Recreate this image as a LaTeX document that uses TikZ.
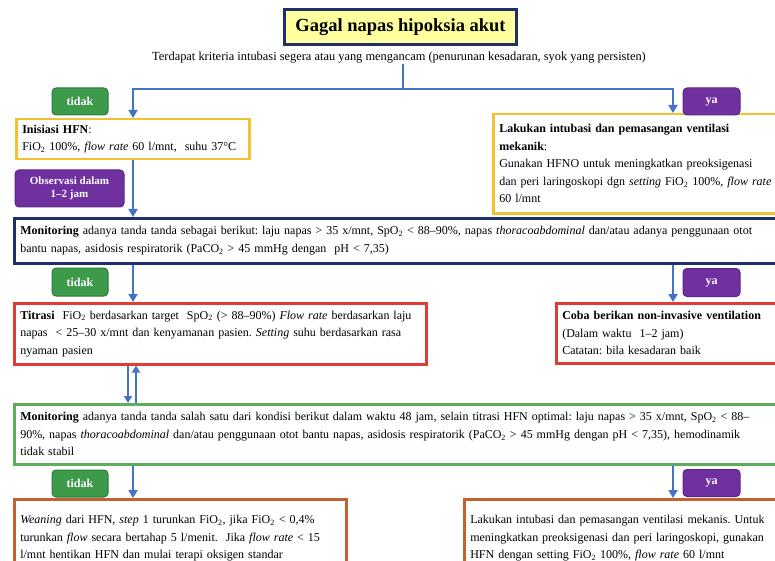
\documentclass[tikz,border=0pt]{standalone}
\usepackage{fontspec}
\setmainfont{Liberation Serif}
\usetikzlibrary{arrows.meta,calc}
\definecolor{connblue}{HTML}{4472C4}
\definecolor{btngreen}{HTML}{3C9A4A}
\definecolor{btngreenD}{HTML}{2E7D3A}
\definecolor{btnpurple}{HTML}{7030A0}
\definecolor{btnpurpleD}{HTML}{5A2585}
\definecolor{titlefill}{HTML}{FFFF9E}
\definecolor{navy}{HTML}{1F2F6B}
\definecolor{boxyellow}{HTML}{F2C232}
\definecolor{boxred}{HTML}{E23A35}
\definecolor{boxgreen}{HTML}{5CAE5C}
\definecolor{boxorange}{HTML}{C4622D}
\frenchspacing
\begin{document}
\begin{tikzpicture}[x=1pt,y=-1pt,
  txt/.style={font=\fontsize{12}{17.5}\selectfont},
  box/.style={draw, line width=2.5pt, fill=white, align=left, anchor=north west,
    inner xsep=6pt, inner ysep=0pt, txt},
  btn/.style={draw=#1D, fill=#1, line width=1pt, rounded corners=4pt, text=white,
    font=\fontsize{12}{13}\selectfont\bfseries, inner sep=0pt, align=center},
  line/.style={draw=connblue, line width=2.5pt},
  arr/.style={line, -{Triangle[width=9pt,length=8pt]}},
  thinarr/.style={draw=connblue, line width=2pt, -{Triangle[width=8pt,length=7pt]}}
]
\useasboundingbox (0,0) rectangle (775,561);
\clip (0,0) rectangle (775,561);

% title
\node[draw=navy, line width=3.5pt, fill=titlefill, minimum width=232pt, minimum height=35pt,
  font=\fontsize{18.5}{22}\selectfont\bfseries] (title) at (400.5,27) {Gagal napas hipoksia akut};
\node[font=\fontsize{12.4}{15}\selectfont, inner sep=0pt] (sub) at (399,58) {Terdapat kriteria intubasi segera atau yang mengancam (penurunan kesadaran, syok yang persisten)};

% guide coordinates
\coordinate (cL) at (133,0);
\coordinate (cR) at (673,0);
\coordinate (j1) at (403,89);
\coordinate (dn) at (128,0);
\coordinate (up) at (136,0);

% boxes
\node[box, draw=boxyellow, text width=221pt, minimum height=40pt] (ini) at (15,118)
 {\textbf{Inisiasi HFN}:\\FiO\textsubscript{2} 100\%, \textit{flow rate} 60 l/mnt,~ suhu 37°C};
\node[box, draw=boxyellow, text width=278pt, minimum height=99pt] (hfno) at (492,113)
 {\textbf{Lakukan intubasi dan pemasangan ventilasi}\\\textbf{mekanik}:\\Gunakan HFNO untuk meningkatkan preoksigenasi\\dan peri laringoskopi dgn \textit{setting} FiO\textsubscript{2} 100\%, \textit{flow rate}\\60 l/mnt};
\node[box, draw=navy, text width=758pt, minimum height=45pt] (mon1) at (13,217)
 {\textbf{Monitoring} adanya tanda tanda sebagai berikut: laju napas > 35 x/mnt, SpO\textsubscript{2} < 88–90\%, napas \textit{thoracoabdominal} dan/atau adanya penggunaan otot\\bantu napas, asidosis respiratorik (PaCO\textsubscript{2} > 45 mmHg dengan~ pH < 7,35)};
\node[box, draw=boxred, text width=400pt, minimum height=61pt] (tit) at (13,302)
 {\textbf{Titrasi}~ FiO\textsubscript{2} berdasarkan target~ SpO\textsubscript{2} (> 88–90\%) \textit{Flow rate} berdasarkan laju\\napas~ < 25–30 x/mnt dan kenyamanan pasien. \textit{Setting} suhu berdasarkan rasa\\nyaman pasien};
\node[box, draw=boxred, text width=216pt, minimum height=60pt] (niv) at (555,302)
 {\textbf{Coba berikan non-invasive ventilation}\\(Dalam waktu~ 1–2 jam)\\Catatan: bila kesadaran baik};
\node[box, draw=boxgreen, text width=758pt, minimum height=60pt] (mon2) at (13,403)
 {\textbf{Monitoring} adanya tanda tanda salah satu dari kondisi berikut dalam waktu 48 jam, selain titrasi HFN optimal: laju napas > 35 x/mnt, SpO\textsubscript{2} < 88–\\90\%, napas \textit{thoracoabdominal} dan/atau penggunaan otot bantu napas, asidosis respiratorik (PaCO\textsubscript{2} > 45 mmHg dengan pH < 7,35), hemodinamik\\tidak stabil};
\node[box, draw=boxorange, text width=320pt, minimum height=78pt] (wean) at (13,498)
 {\textit{Weaning} dari HFN, \textit{step} 1 turunkan FiO\textsubscript{2}, jika FiO\textsubscript{2} < 0,4\%\\turunkan \textit{flow} secara bertahap 5 l/menit.~ Jika \textit{flow rate} < 15\\l/mnt hentikan HFN dan mulai terapi oksigen standar};
\node[box, draw=boxorange, text width=308pt, minimum height=78pt] (fin) at (463,498)
 {Lakukan intubasi dan pemasangan ventilasi mekanis. Untuk\\meningkatkan preoksigenasi dan peri laringoskopi, gunakan\\HFN dengan setting FiO\textsubscript{2} 100\%, \textit{flow rate} 60 l/mnt};

% buttons
\node[btn=btngreen, minimum width=56pt, minimum height=27pt] (tidak1) at (80,101.5) {tidak};
\node[btn=btnpurple, minimum width=57pt, minimum height=27pt] (ya1) at (711.5,101.5) {ya};
\node[btn=btnpurple, minimum width=109pt, minimum height=37pt, font=\fontsize{11}{13}\selectfont\bfseries] (obs) at (69.5,188.5) {Observasi dalam\\1–2 jam};
\node[btn=btngreen, minimum width=56pt, minimum height=28pt] (tidak2) at (80,282) {tidak};
\node[btn=btnpurple, minimum width=57pt, minimum height=28pt] (ya2) at (711.5,282.5) {ya};
\node[btn=btngreen, minimum width=56pt, minimum height=27pt] (tidak3) at (80,483.5) {tidak};
\node[btn=btnpurple, minimum width=57pt, minimum height=27pt] (ya3) at (711.5,483) {ya};

% connectors
\draw[line] (sub.south -| j1) -- (j1);
\draw[arr] (j1) -| (ini.north -| cL);
\draw[arr] (j1) -| (hfno.north -| cR);
\draw[arr] (ini.south -| cL) -- (mon1.north -| cL);
\draw[arr] (mon1.south -| cL) -- (tit.north -| cL);
\draw[arr] (mon1.south -| cR) -- (niv.north -| cR);
\draw[thinarr] (tit.south -| dn) -- (mon2.north -| dn);
\draw[thinarr] (mon2.north -| up) -- (tit.south -| up);
\draw[arr] (mon2.south -| cL) -- (wean.north -| cL);
\draw[arr] (mon2.south -| cR) -- (fin.north -| cR);
\end{tikzpicture}
\end{document}
